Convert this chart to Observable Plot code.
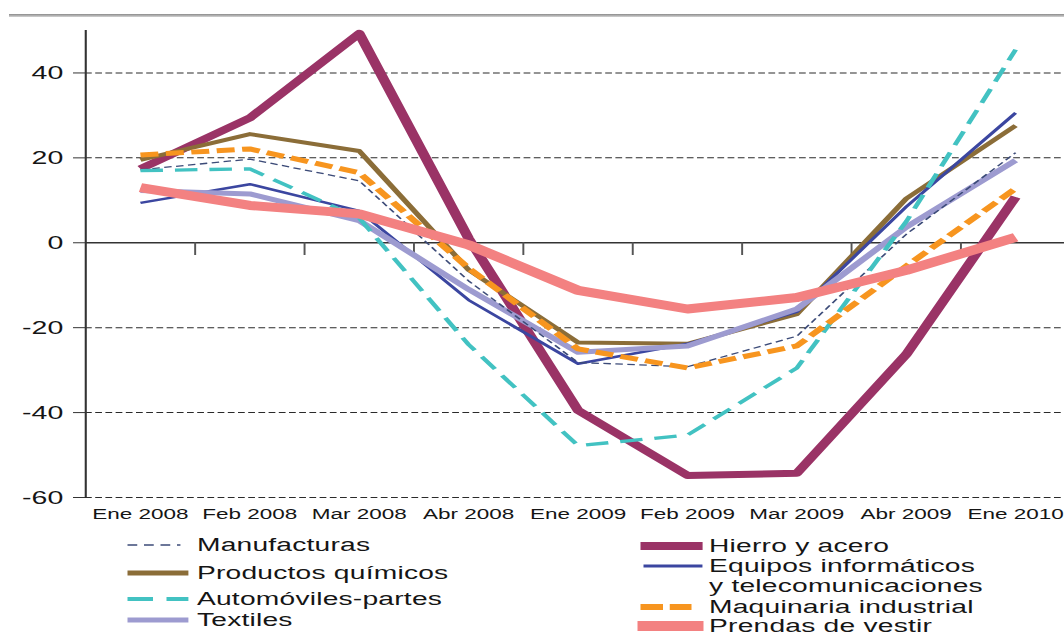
<!DOCTYPE html>
<html><head><meta charset="utf-8">
<script src="https://cdn.jsdelivr.net/npm/d3@7"></script>
<script src="https://cdn.jsdelivr.net/npm/@observablehq/plot@0.6"></script>
<style>
html,body{margin:0;padding:0;background:#fff;overflow:hidden;}
#wrap{position:relative;width:709.33px;height:633px;transform:scaleX(1.5);transform-origin:0 0;font-family:"Liberation Sans",Arial,sans-serif;color:#151515;}
#topbar{position:absolute;left:6px;top:14px;width:710px;height:3px;background:linear-gradient(#8a8a8a,#d4d4d4);}
#chart{position:absolute;left:0;top:0;}
.lg{position:absolute;font-size:18.8px;white-space:nowrap;line-height:20.5px;letter-spacing:0.15px;}
.sw{position:absolute;overflow:visible;}
</style></head><body>
<div id="wrap"><div id="topbar"></div><div id="chart"></div><div id="legend"></div></div>
<script>
// ---- data ----
const categories = ["Ene 2008","Feb 2008","Mar 2008","Abr 2008","Ene 2009","Feb 2009","Mar 2009","Abr 2009","Ene 2010"];
const yTicks = [-60,-40,-20,0,20,40];

const manufacturas = [17.2, 19.7, 14.6, -9.0, -28.2, -29.2, -22.0, 2.0, 21.2];
const hierroAcero  = [17.4, 29.4, 49.3, 1.0, -39.5, -54.8, -54.3, -26.3, 10.8];
const productosQuimicos = [19.5, 25.6, 21.6, -6.4, -23.5, -23.8, -16.8, 10.4, 27.6];
const equiposInformaticos = [9.4, 13.8, 7.5, -13.5, -28.5, -23.8, -16.3, 8.5, 30.6];
const automoviles = [17.0, 17.4, 5.8, -24.0, -47.8, -45.3, -29.5, 5.0, 45.5];
const maquinaria = [20.7, 22.1, 16.5, -6.0, -25.0, -29.5, -24.3, -5.5, 12.8];
const textiles = [12.3, 11.5, 5.2, -11.0, -25.8, -24.3, -15.6, 3.7, 19.4];
const prendas = [13.0, 8.8, 6.8, -0.5, -11.2, -15.6, -12.9, -6.5, 1.3];

const seriesNames = ["Manufacturas","Hierro y acero","Productos químicos","Equipos informáticos\ny telecomunicaciones","Automóviles-partes","Maquinaria industrial","Textiles","Prendas de vestir"];
const seriesValues = [manufacturas, hierroAcero, productosQuimicos, equiposInformaticos, automoviles, maquinaria, textiles, prendas];

// ---- styles ----
const colors = ["#3c4b78","#9a3366","#8b6d38","#3b46a0","#42c2c2","#f7951f","#9d9bd0","#f38181"];
const widths = [1.3, 7, 4, 2.5, 3.3, 5, 5, 9];
const dashes = ["5,3", null, null, null, "15,8", "12,5", null, null];
const legendDashes = ["6.5,4.5", null, null, null, "17,9", "15,4.5", null, null];
const legendWidths = [1.5, 8, 5, 3, 4, 6, 5, 10];
const drawOrder = [1, 2, 3, 6, 0, 4, 5, 7];

const rows = [];
seriesValues.forEach((vals, s) => vals.forEach((v, i) => rows.push({s, i, v})));
const gridValues = yTicks.filter(d => d !== 0);
const boundaries = d3.range(1, categories.length).map(i => i - 0.5);

const W = 1064 / 1.5;
const x0 = 85 / 1.5, band = 109.4 / 1.5;

const plot = Plot.plot({
  width: W, height: 530,
  marginLeft: x0, marginRight: 0, marginTop: 0, marginBottom: 33,
  x: {domain: [-0.5, categories.length - 0.5], range: [x0, x0 + band * categories.length]},
  y: {domain: [-60, 50], range: [497, 30]},
  style: {fontFamily: '"Liberation Sans", Arial, sans-serif', color: "#151515", background: "transparent", overflow: "visible"},
  marks: [
    Plot.ruleY(gridValues, {stroke: "#2a2a2a", strokeWidth: 1, strokeDasharray: "4.5,2.3"}),
    Plot.ruleY([0], {stroke: "#333", strokeWidth: 1.6}),
    Plot.ruleX(boundaries, {y1: 0, y2: -3, stroke: "#555", strokeWidth: 1.3}),
    Plot.ruleX([-0.5], {y1: -60, y2: 50, stroke: "#333", strokeWidth: 1.4}),
    Plot.axisY({ticks: yTicks, tickFormat: d => String(d), tickSize: 8, tickPadding: 7, fontSize: 19, stroke: "#333", label: null}),
    Plot.axisX({ticks: d3.range(categories.length), tickFormat: i => categories[i], tickSize: 0, tickPadding: 11, fontSize: 15, label: null}),
    ...drawOrder.map(s => Plot.line(rows.filter(r => r.s === s), {
      x: "i", y: "v", stroke: colors[s], strokeWidth: widths[s],
      strokeDasharray: dashes[s] || undefined, strokeLinecap: "butt", strokeLinejoin: "round"
    }))
  ]
});
document.getElementById("chart").appendChild(plot);

// ---- legend ----
const legend = document.getElementById("legend");
const legendLayout = [
  {s: 0, sx1: 84.7, sx2: 120, tx: 131.3, y: 545},
  {s: 2, sx1: 84.7, sx2: 125.3, tx: 131.3, y: 573},
  {s: 4, sx1: 84.7, sx2: 125.3, tx: 131.3, y: 599},
  {s: 6, sx1: 84.7, sx2: 125.3, tx: 131.3, y: 620},
  {s: 1, sx1: 427.3, sx2: 468.7, tx: 472.7, y: 546},
  {s: 3, sx1: 428.7, sx2: 468, tx: 472.7, y: 566},
  {s: 5, sx1: 427.3, sx2: 461.3, tx: 472.7, y: 607},
  {s: 7, sx1: 424.7, sx2: 468.7, tx: 472.7, y: 626}
];
legendLayout.forEach(e => {
  const svg = d3.create("svg").attr("class", "sw")
    .attr("width", e.sx2 - e.sx1).attr("height", 14)
    .style("left", e.sx1 + "px").style("top", (e.y - 7) + "px");
  svg.append("line").attr("x1", 0).attr("x2", e.sx2 - e.sx1).attr("y1", 7).attr("y2", 7)
    .attr("stroke", colors[e.s]).attr("stroke-width", legendWidths[e.s])
    .attr("stroke-dasharray", legendDashes[e.s]);
  legend.appendChild(svg.node());
  const lines = seriesNames[e.s].split("\n");
  const div = document.createElement("div");
  div.className = "lg";
  div.style.left = e.tx + "px";
  div.style.top = (e.y - 10.25) + "px";
  div.innerHTML = lines.join("<br>");
  legend.appendChild(div);
});
</script>
</body></html>
